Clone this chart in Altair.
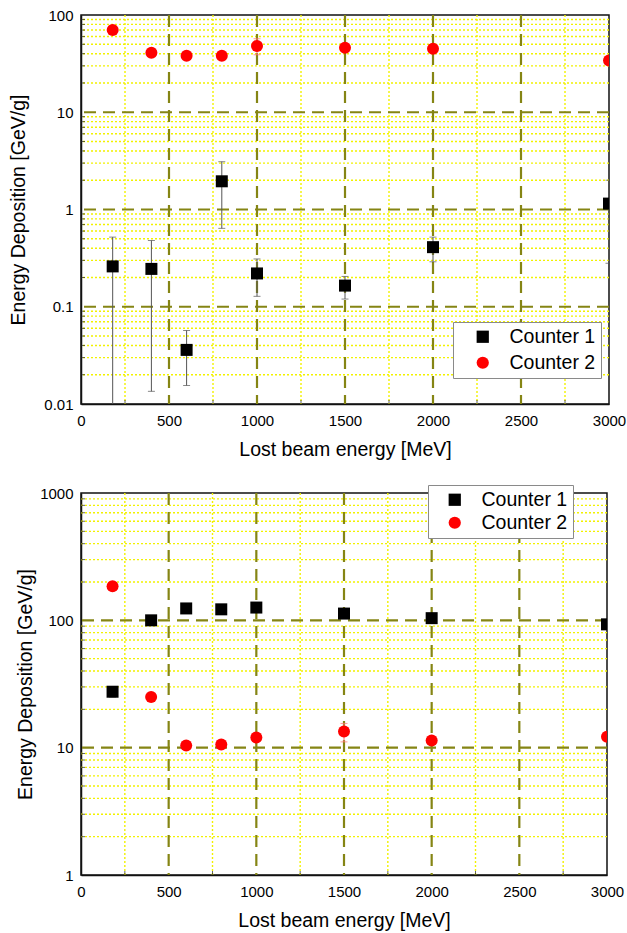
import altair as alt
import pandas as pd

FONT = "Liberation Sans"

# ---------------- data ----------------
energy = [180, 400, 600, 800, 1000, 1500, 2000, 3000]
series_names = ["Counter 1", "Counter 2"]

# upper panel
top_c1 = [0.26, 0.245, 0.036, 1.95, 0.22, 0.165, 0.41, 1.15]
top_c1_lo = [0.005, 0.0135, 0.0155, 0.64, 0.128, 0.12, 0.29, 0.28]
top_c1_hi = [0.52, 0.48, 0.057, 3.1, 0.31, 0.205, 0.52, 2.0]
top_c2 = [70, 41, 38, 38, 48, 46, 45, 34]
top_c2_lo = [70, 41, 38, 38, 39, 46, 45, 34]
top_c2_hi = [70, 41, 38, 38, 57, 46, 45, 34]

# lower panel
bot_c1 = [27.5, 100, 124, 122, 126, 113, 104, 93]
bot_c1_lo = [25, 100, 124, 122, 126, 113, 104, 93]
bot_c1_hi = [30, 100, 124, 122, 126, 113, 104, 93]
bot_c2 = [185, 25, 10.4, 10.6, 12, 13.4, 11.4, 12.2]
bot_c2_lo = [185, 25, 10.4, 10.6, 12, 11.1, 11.4, 12.2]
bot_c2_hi = [185, 25, 10.4, 10.6, 12, 15.5, 11.4, 12.2]

# axis / grid positions
x_labels = [0, 500, 1000, 1500, 2000, 2500, 3000]
x_major_grid = [500, 1000, 1500, 2000, 2500]
x_minor_grid = [250, 750, 1250, 1750, 2250, 2750]

top_y_labels = [0.01, 0.1, 1, 10, 100]
top_y_major_grid = [0.1, 1, 10]
bot_y_labels = [1, 10, 100, 1000]
bot_y_major_grid = [10, 100]


def minor_log(lo_exp, hi_exp):
    return [k * 10.0 ** e for e in range(lo_exp, hi_exp) for k in range(2, 10)]


top_y_minor = minor_log(-2, 2)
bot_y_minor = minor_log(0, 3)

OLIVE = "#858514"
YELLOW = "#f2f200"


def panel(c1, c1_lo, c1_hi, c2, c2_lo, c2_hi, y_labels, y_major, y_minor,
          w, h, lx, ly, row_pad, y_title_pad, sym_off, lab_off):
    n = len(energy)
    pts = pd.DataFrame({
        "energy": energy * 2,
        "value": c1 + c2,
        "lo": c1_lo + c2_lo,
        "hi": c1_hi + c2_hi,
        "series": [series_names[0]] * n + [series_names[1]] * n,
    })
    xs = alt.Scale(domain=[0, 3000], nice=False, zero=False)
    ys = alt.Scale(type="log", domain=[y_labels[0], y_labels[-1]], nice=False)
    xaxis = alt.Axis(values=x_labels, title="Lost beam energy [MeV]", grid=False,
                     ticks=False, labelPadding=9, titlePadding=12, format="d",
                     labelFlush=False)
    yaxis = alt.Axis(values=y_labels, title="Energy Deposition [GeV/g]", grid=False,
                     ticks=False, labelPadding=8, titlePadding=y_title_pad,
                     format="~g")

    def X(f):
        return alt.X(f, type="quantitative", scale=xs, axis=xaxis)

    def Y(f):
        return alt.Y(f, type="quantitative", scale=ys, axis=yaxis)

    minor_x = alt.Chart(pd.DataFrame({"gx": x_minor_grid})).mark_rule(
        color=YELLOW, strokeWidth=1.4, strokeDash=[2, 2]).encode(x=X("gx"))
    minor_y = alt.Chart(pd.DataFrame({"gy": y_minor})).mark_rule(
        color=YELLOW, strokeWidth=1.4, strokeDash=[2, 2]).encode(y=Y("gy"))
    major_x = alt.Chart(pd.DataFrame({"gx": x_major_grid})).mark_rule(
        color=OLIVE, strokeWidth=2.2, strokeDash=[12, 7]).encode(x=X("gx"))
    major_y = alt.Chart(pd.DataFrame({"gy": y_major})).mark_rule(
        color=OLIVE, strokeWidth=2.2, strokeDash=[12, 7]).encode(y=Y("gy"))

    ticks_y = alt.Chart(pd.DataFrame({"ty": y_minor})).mark_tick(
        orient="horizontal", size=4, thickness=1, color="#222222").encode(
        y=Y("ty"), x=alt.value(2))
    ticks_x = alt.Chart(pd.DataFrame({"tx": x_minor_grid})).mark_tick(
        orient="vertical", size=4, thickness=1, color="#222222").encode(
        x=X("tx"), y=alt.value(h - 2))

    layers = [minor_x, minor_y, major_x, major_y, ticks_y, ticks_x]
    for name, col in zip(series_names, ["#555555", "#ff7070"]):
        base = alt.Chart(pts).transform_filter(alt.datum.series == name)
        layers.append(base.mark_rule(clip=True, color=col, strokeWidth=1).encode(
            x=X("energy"), y=Y("lo"), y2="hi"))
        layers.append(base.mark_tick(clip=True, orient="horizontal", size=7,
                                     thickness=1, color=col).encode(
            x=X("energy"), y=Y("hi")))
        layers.append(base.mark_tick(clip=True, orient="horizontal", size=7,
                                     thickness=1, color=col).encode(
            x=X("energy"), y=Y("lo")))

    legend = alt.Legend(orient="none", legendX=lx, legendY=ly, title=None,
                        labelFontSize=19.5, labelFont=FONT, labelColor="black",
                        symbolSize=150, symbolStrokeWidth=0, strokeColor="#8a8a8a",
                        fillColor="white", padding=5, rowPadding=row_pad,
                        symbolOffset=sym_off, labelOffset=lab_off, cornerRadius=0)
    points = alt.Chart(pts).mark_point(filled=True, opacity=1, size=144,
                                       strokeWidth=0, clip=True).encode(
        x=X("energy"), y=Y("value"),
        color=alt.Color("series:N", scale=alt.Scale(domain=series_names,
                                                    range=["#000000", "#ff0000"]),
                        legend=legend),
        shape=alt.Shape("series:N", scale=alt.Scale(domain=series_names,
                                                    range=["square", "circle"]),
                        legend=legend),
    )
    layers.append(points)
    return alt.layer(*layers).properties(width=w, height=h)


top = panel(top_c1, top_c1_lo, top_c1_hi, top_c2, top_c2_lo, top_c2_hi,
            top_y_labels, top_y_major_grid, top_y_minor,
            528, 389, 372, 307, 5, 15, 15, 17)
bottom = panel(bot_c1, bot_c1_lo, bot_c1_hi, bot_c2, bot_c2_lo, bot_c2_hi,
               bot_y_labels, bot_y_major_grid, bot_y_minor,
               526, 382, 347, -8, 2, 4, 12, 17)

chart = alt.concat(top, bottom, columns=1, spacing=23).resolve_scale(
    color="independent", shape="independent"
).resolve_legend(
    color="independent", shape="independent"
).properties(
    padding={"left": 8, "top": 7, "right": 0, "bottom": 0},
    background="white",
).configure_view(
    stroke="#111111", strokeWidth=1.5,
).configure_axis(
    labelFont=FONT, titleFont=FONT, labelFontSize=15, titleFontSize=19.5,
    labelColor="black", titleColor="black", domainColor="#111111",
    domainWidth=1.5, titleFontWeight="normal",
).configure_legend(labelFont=FONT)

chart.save("out.html", embed_options={"renderer": "svg", "actions": False})
